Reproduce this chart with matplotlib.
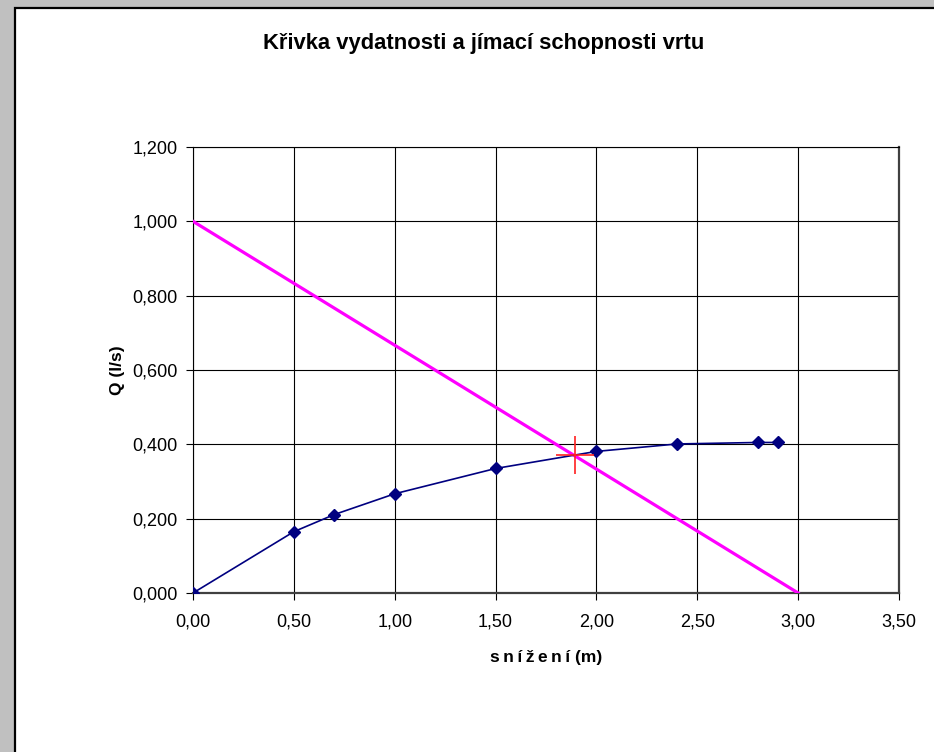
import matplotlib.pyplot as plt
import matplotlib.ticker as mticker
from matplotlib.patches import Rectangle

plt.rcParams['font.family'] = ['Liberation Sans', 'DejaVu Sans']

# data
snizeni = [0.0, 0.5, 0.7, 1.0, 1.5, 2.0, 2.4, 2.8, 2.9]
vydatnost = [0.0, 0.165, 0.211, 0.267, 0.335, 0.381, 0.401, 0.405, 0.405]
jimaci_x = [0.0, 3.0]
jimaci_q = [1.0, 0.0]
prusecik_x = [1.895]
prusecik_q = [0.372]

fig = plt.figure(figsize=(9.34, 7.52), dpi=100)
fig.patch.set_facecolor('#c0c0c0')

# white chart panel with black border
panel = Rectangle((15 / 934, -0.1), 1.0, 1.1 - 8 / 752, transform=fig.transFigure,
                  facecolor='white', edgecolor='black', linewidth=1.6, zorder=-1)
fig.patches.append(panel)

ax = fig.add_axes([193 / 934, 1 - 593 / 752, (899 - 193) / 934, (593 - 147) / 752])
ax.set_facecolor('white')

ax.plot(jimaci_x, jimaci_q, color='#ff00ff', linewidth=2.3, zorder=3)
ax.plot(snizeni, vydatnost, color='#000080', linewidth=1.2, marker='D',
        markersize=6.5, zorder=4)
ax.plot(prusecik_x, prusecik_q, linestyle='none', marker='+', color='#ff2020',
        markersize=28, markeredgewidth=1.2, zorder=5)

ax.set_xlim(0, 3.5)
ax.set_ylim(0, 1.2)
ax.xaxis.set_major_locator(mticker.MultipleLocator(0.5))
ax.yaxis.set_major_locator(mticker.MultipleLocator(0.2))
ax.xaxis.set_major_formatter(mticker.FuncFormatter(lambda v, p: f'{v:.2f}'.replace('.', ',')))
ax.yaxis.set_major_formatter(mticker.FuncFormatter(lambda v, p: f'{v:.3f}'.replace('.', ',')))

ax.grid(True, color='black', linewidth=0.8)
ax.set_axisbelow(True)
ax.tick_params(direction='out', length=5, width=0.8, labelsize=13)
ax.tick_params(axis='x', pad=10)
ax.tick_params(axis='y', pad=6)

for s in ['top', 'left']:
    ax.spines[s].set_color('black')
    ax.spines[s].set_linewidth(0.8)
for s in ['bottom', 'right']:
    ax.spines[s].set_color('#404040')
    ax.spines[s].set_linewidth(1.6)

ax.set_xlabel('\u2009'.join('snížení') + ' (m)', fontsize=12.5, fontweight='bold', labelpad=14)
ax.set_ylabel('Q (l/s)', fontsize=12.5, fontweight='bold', labelpad=5)
fig.text(484 / 934, 1 - 44 / 752, 'Křivka vydatnosti a jímací schopnosti vrtu',
         ha='center', va='center', fontsize=15.8, fontweight='bold')

fig.savefig('out.png', dpi=100, facecolor=fig.get_facecolor())
